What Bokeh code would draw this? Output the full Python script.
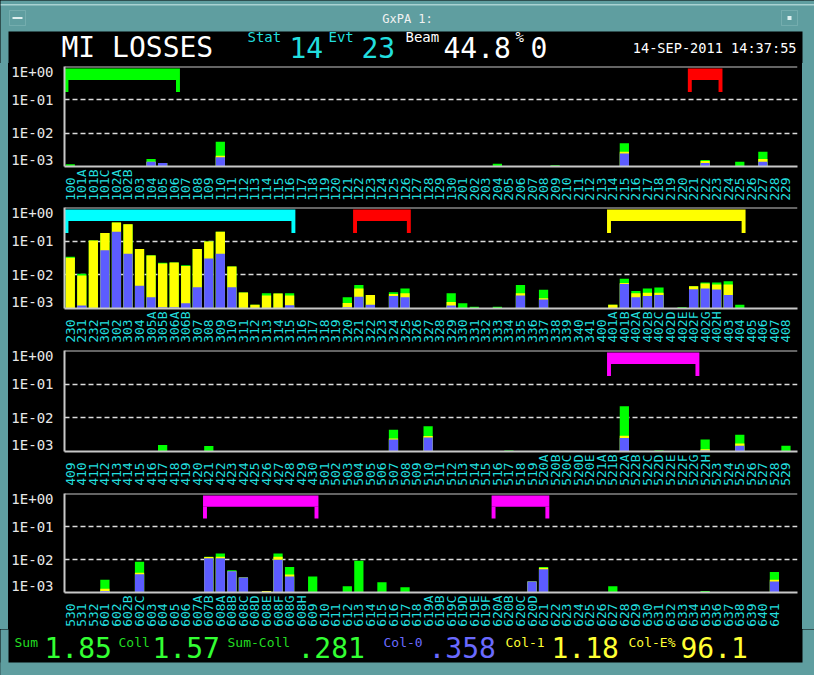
import math
from bokeh.plotting import figure
from bokeh.models import (Range1d, FixedTicker, CustomJSTickFormatter, Span, Label,
                          Spacer, ColumnDataSource, BoxAnnotation)
from bokeh.layouts import column, row
from bokeh.embed import file_html
from bokeh.resources import INLINE

# ---------------- data ----------------
WINDOW_TITLE = "GxPA 1:"
PAGE_TITLE = "MI LOSSES"
STAT = "14"
EVT = "23"
BEAM = "44.8"
BEAM_EXTRA = "0"
TIMESTAMP = "14-SEP-2011 14:37:55"

SUM_TOTAL = "1.85"
COLL = "1.57"
SUM_MINUS_COLL = ".281"
COL_0 = ".358"
COL_1 = "1.18"
COL_E_PCT = "96.1"

y_ticks = [1e-3, 1e-2, 1e-1, 1.0]

p1_labels = ("100 101A 101B 101C 102A 102B 103 104 105 106 107 108 109 110 111 112 113 114 115 116 "
             "117 118 119 120 121 122 123 124 125 126 127 128 129 130 201 202 203 204 205 206 207 208 "
             "209 210 211 212 213 214 215 216 217 218 219 220 221 222 223 224 225 226 227 228 229").split()
p1_bar_labels = ["100", "104", "105", "110", "204", "209", "215", "222", "225", "227"]
p1_sum = [1.17e-3, 1.67e-3, 1.28e-3, 5.5e-3, 1.2e-3, 1.09e-3, 5.0e-3, 1.56e-3, 1.40e-3, 2.75e-3]
p1_coll = [0, 1.40e-3, 1.28e-3, 2.1e-3, 0, 0, 2.75e-3, 1.46e-3, 0, 1.67e-3]
p1_col0 = [0, 1.40e-3, 1.28e-3, 1.9e-3, 0, 0, 2.45e-3, 1.28e-3, 0, 1.40e-3]
p1_groups = [("100", "106"), ("221", "223")]
p1_group_colors = ["#00ff00", "#ff0000"]

p2_labels = ("230 231 232 301 302 303 304 305A 305B 306A 306B 307 308 309 310 311 312 313 314 315 316 "
             "317 318 319 320 321 322 323 324 325 326 327 328 329 330 331 332 333 334 335 336 337 338 "
             "339 340 341 400 401A 401B 402A 402B 402C 402D 402E 402F 402G 402H 403 404 405 406 407 408").split()
p2_bar_labels = ["230", "231", "232", "301", "302", "303", "304", "305A", "305B", "306A", "306B", "307",
                 "308", "309", "310", "311", "312", "313", "314", "315", "320", "321", "322", "324", "325",
                 "329", "330", "331", "333", "335", "337", "401A", "401B", "402A", "402B", "402C", "402E",
                 "402F", "402G", "402H", "403", "404"]
p2_sum = [0.0345, 0.0107, 0.105, 0.176, 0.36, 0.316, 0.059, 0.038, 0.0227, 0.0234, 0.0194, 0.059,
          0.098, 0.19, 0.0178, 3.0e-3, 1.3e-3, 2.83e-3, 2.77e-3, 2.83e-3, 2.17e-3, 5.0e-3, 2.53e-3, 3.03e-3, 3.95e-3,
          2.83e-3, 1.43e-3, 1.12e-3, 1.12e-3, 5.0e-3, 3.6e-3, 1.30e-3, 7.7e-3, 3.3e-3, 3.95e-3, 4.2e-3, 1.09e-3,
          4.6e-3, 5.9e-3, 5.9e-3, 6.4e-3, 1.30e-3]
p2_coll = [0.0324, 0.0096, 0.104, 0.174, 0.36, 0.316, 0.0588, 0.0378, 0.0217, 0.0232, 0.0182, 0.0588,
           0.098, 0.19, 0.0178, 3.0e-3, 1.3e-3, 2.42e-3, 2.77e-3, 2.42e-3, 1.46e-3, 3.95e-3, 2.53e-3, 2.71e-3, 2.83e-3,
           1.56e-3, 0, 0, 0, 2.83e-3, 2.03e-3, 1.30e-3, 5.75e-3, 2.83e-3, 2.96e-3, 2.96e-3, 0,
           4.6e-3, 5.5e-3, 5.15e-3, 5.15e-3, 0]
p2_col0 = [0, 1.22e-3, 0, 0.0538, 0.19, 0.0422, 4.7e-3, 2.17e-3, 1.09e-3, 1.09e-3, 1.43e-3, 4.3e-3,
           0.0303, 0.0422, 4.3e-3, 0, 0, 0, 0, 1.25e-3, 1.09e-3, 2.22e-3, 1.30e-3, 2.37e-3, 2.17e-3,
           1.22e-3, 0, 0, 0, 2.42e-3, 1.86e-3, 0, 5.37e-3, 2.17e-3, 2.37e-3, 2.53e-3, 0,
           3.7e-3, 3.95e-3, 3.69e-3, 2.53e-3, 0]
p2_groups = [("230", "315"), ("321", "325"), ("401A", "404")]
p2_group_colors = ["#00ffff", "#ff0000", "#ffff00"]

p3_labels = ("409 410 411 412 413 414 415 416 417 418 419 420 421 422 423 424 425 426 427 428 429 430 "
             "501 502 503 504 505 506 507 508 509 510 511 512 513 514 515 516 517 518 519 520A 520B 520C "
             "520D 520E 521A 521B 522A 522B 522C 522D 522E 522F 522G 522H 523 524 525 526 527 528 529").split()
p3_bar_labels = ["417", "421", "507", "510", "517", "522A", "522D", "522H", "525", "529"]
p3_sum = [1.56e-3, 1.46e-3, 4.4e-3, 5.6e-3, 1.07e-3, 0.022, 1.07e-3, 2.27e-3, 3.16e-3, 1.49e-3]
p3_coll = [0, 0, 2.42e-3, 2.9e-3, 0, 2.96e-3, 0, 1.17e-3, 1.74e-3, 0]
p3_col0 = [0, 0, 2.27e-3, 2.6e-3, 0, 2.53e-3, 0, 1.07e-3, 1.49e-3, 0]
p3_groups = [("521B", "522G")]
p3_group_colors = ["#ff00ff"]

p4_labels = ("530 531 532 601 602 602B 602C 603 604 605 606 607A 607B 608A 608B 608C 608D 608E 608F "
             "608G 608H 609 610 611 612 613 614 615 616 617 618 619A 619B 619C 619D 619E 619F 620A 620B "
             "620C 620D 621 622 623 624 625 626 627 628 629 630 631 632 633 634 635 636 637 638 639 640 641").split()
p4_bar_labels = ["601", "602C", "607B", "608A", "608B", "608C", "608E", "608F", "608G", "609", "612",
                 "613", "615", "617", "620D", "621", "627", "635", "641"]
p4_sum = [2.42e-3, 8.6e-3, 0.0122, 0.0152, 4.7e-3, 2.83e-3, 1.12e-3, 0.0152, 5.9e-3, 3.03e-3, 1.56e-3,
          9.15e-3, 2.03e-3, 1.43e-3, 2.17e-3, 5.9e-3, 1.56e-3, 1.12e-3, 4.2e-3]
p4_coll = [1.30e-3, 4.0e-3, 0.0120, 0.0122, 4.4e-3, 2.83e-3, 1.12e-3, 0.0122, 3.54e-3, 0, 0,
           0, 0, 0, 2.17e-3, 5.6e-3, 0, 0, 2.42e-3]
p4_col0 = [1.12e-3, 3.6e-3, 0.0109, 0.0109, 4.4e-3, 2.83e-3, 0, 9.75e-3, 3.03e-3, 0, 0,
           0, 0, 0, 2.17e-3, 5.03e-3, 0, 0, 2.17e-3]
p4_groups = [("607B", "609"), ("620A", "621")]
p4_group_colors = ["#ff00ff", "#ff00ff"]

# ---------------- style ----------------
TEAL = "#5f9ea0"
TEAL_LIGHT = "#a9d2d2"
BLACK = "#000000"
GREEN = "#00ff00"
YELLOW = "#ffff00"
BLUE = "#5c5cff"
CYAN_TXT = "#22dede"
GRAY = "#c8c8c8"
MONO = "DejaVu Sans Mono"
Y_MIN, Y_MAX = 1e-3, 1.0
FULL_W = 814       # whole window
W = 794            # width of the black display area
BL, BR = 54, 5     # left / right borders of each plot frame


def tick_label_pos(v):
    # labels at the frame edges are nudged inward, as on the original display
    e = math.log10(v)
    if v >= Y_MAX:
        e -= 0.165
    elif v <= Y_MIN:
        e += 0.19
    return 10 ** e


def panel(labels, bar_labels, sums, colls, col0s, groups, group_colors, height, top_border, bottom_border):
    p = figure(width=W, height=height, x_range=Range1d(-0.5, 63.0), y_range=Range1d(Y_MIN, Y_MAX),
               y_axis_type="log", output_backend="svg", toolbar_location=None, title=None,
               min_border_left=BL, min_border_right=BR, min_border_top=top_border,
               min_border_bottom=bottom_border,
               background_fill_color=BLACK, border_fill_color=BLACK, outline_line_color=None)
    frame_h = height - top_border - bottom_border

    xs = [labels.index(b) for b in bar_labels]
    for vals, colr in ((sums, GREEN), (colls, YELLOW), (col0s, BLUE)):
        pts = [(x, v) for x, v in zip(xs, vals) if v > 0]
        src = ColumnDataSource(dict(x=[a for a, _ in pts], top=[b for _, b in pts]))
        p.vbar(x="x", top="top", bottom=Y_MIN, width=0.8, source=src,
               fill_color=colr, line_color=None)
    # group brackets (pixel offsets below the top edge converted to decades)
    dpp = math.log10(Y_MAX / Y_MIN) / frame_h
    b_top = Y_MAX * 10 ** (-2.0 * dpp)
    b_mid = Y_MAX * 10 ** (-13.5 * dpp)
    b_bot = Y_MAX * 10 ** (-25.5 * dpp)
    leg = 0.34
    for (a, b), colr in zip(groups, group_colors):
        x0 = labels.index(a) - 0.5
        x1 = labels.index(b) + 0.5
        src = ColumnDataSource(dict(left=[x0, x0, x1 - leg], right=[x1, x0 + leg, x1],
                                    top=[b_top, b_mid, b_mid], bottom=[b_mid, b_bot, b_bot]))
        p.quad(left="left", right="right", top="top", bottom="bottom", source=src,
               fill_color=colr, line_color=None)
    # top border
    p.add_layout(Span(location=Y_MAX, dimension="width", line_color=GRAY, line_width=2))
    # axes
    p.xgrid.visible = False
    p.ygrid.ticker = FixedTicker(ticks=[1e-2, 1e-1], minor_ticks=[])
    p.ygrid.grid_line_color = "#dcdcdc"
    p.ygrid.grid_line_dash = "5 3"
    p.ygrid.grid_line_width = 1.5

    p.yaxis.ticker = FixedTicker(ticks=[tick_label_pos(v) for v in y_ticks], minor_ticks=[])
    p.yaxis.formatter = CustomJSTickFormatter(code="""
        const e = Math.round(Math.log10(tick));
        return '1E' + (e < 0 ? '-' : '+') + String(Math.abs(e)).padStart(2, '0');
    """)
    p.yaxis.axis_line_color = GRAY
    p.yaxis.axis_line_width = 2
    p.yaxis.major_tick_line_color = None
    p.yaxis.minor_tick_line_color = None
    p.yaxis.major_label_text_color = "#e8e8e8"
    p.yaxis.major_label_text_font = MONO
    p.yaxis.major_label_text_font_size = "14px"
    p.yaxis.major_label_standoff = 5

    padded = [s + "\u00a0" * (4 - len(s)) for s in labels]
    p.xaxis.ticker = FixedTicker(ticks=list(range(len(labels))), minor_ticks=[])
    p.xaxis.formatter = CustomJSTickFormatter(args=dict(labels=padded),
                                              code="return labels[Math.round(tick)] || '';")
    p.xaxis.major_label_orientation = math.pi / 2
    p.xaxis.axis_line_color = GRAY
    p.xaxis.axis_line_width = 2
    p.xaxis.major_tick_line_color = None
    p.xaxis.minor_tick_line_color = None
    p.xaxis.major_tick_out = 0
    p.xaxis.major_label_standoff = 3
    p.xaxis.major_label_text_color = CYAN_TXT
    p.xaxis.major_label_text_font = MONO
    p.xaxis.major_label_text_font_size = "13px"
    return p


def canvas_fig(height, bg):
    # full-width figure whose data coordinates are pixels from the top-left corner
    f = figure(width=FULL_W, height=height, x_range=Range1d(0, FULL_W), y_range=Range1d(height, 0),
               output_backend="svg", toolbar_location=None, min_border=0, title=None,
               x_axis_location=None, y_axis_location=None,
               background_fill_color=bg, border_fill_color=bg, outline_line_color=None)
    f.grid.visible = False
    return f


def put(f, x, baseline, text, color, size_px, align="left"):
    # x, baseline in pixels; placed with a 'middle' anchor
    f.add_layout(Label(x=x, y=baseline - 0.35 * size_px, text=text, text_color=color, text_font=MONO,
                       text_font_size=f"{size_px}px", text_align=align, text_baseline="middle"))


def box(f, left, right, top, bottom, color, line=None):
    f.add_layout(BoxAnnotation(left=left, right=right, top=top, bottom=bottom, fill_color=color,
                               fill_alpha=1, line_color=line, line_width=1))


# ---- top: window title bar + header line
top = canvas_fig(63, TEAL)
box(top, 0, FULL_W, 3.5, 5, TEAL_LIGHT)
box(top, 8, 8 + W, 31, 66, BLACK)
top.add_layout(Label(x=407, y=18, text=WINDOW_TITLE, text_color="#f2f2f2", text_font=MONO,
                     text_font_size="12px", text_align="center", text_baseline="middle"))
box(top, 9, 25, 10, 25, TEAL, TEAL_LIGHT)
box(top, 781, 797, 10, 25, TEAL, TEAL_LIGHT)
box(top, 12, 22, 16.5, 18.5, "#dff0f0")
box(top, 787, 791, 15.5, 19.5, "#dff0f0")

put(top, 61, 56.3, PAGE_TITLE, "#ffffff", 28)
put(top, 247, 41.5, "Stat", CYAN_TXT, 14)
put(top, 289, 56.3, STAT, CYAN_TXT, 28)
put(top, 328, 41.5, "Evt", CYAN_TXT, 14)
put(top, 361, 56.3, EVT, CYAN_TXT, 28)
put(top, 405, 41.5, "Beam", "#ffffff", 14)
put(top, 443, 56.3, BEAM, "#ffffff", 28)
put(top, 515, 41.5, "%", "#ffffff", 14)
put(top, 530, 56.3, BEAM_EXTRA, "#ffffff", 28)
put(top, 796, 52.7, TIMESTAMP, "#ffffff", 13.6, align="right")

# ---- panels
p1 = panel(p1_labels, p1_bar_labels, p1_sum, p1_coll, p1_col0, p1_groups, p1_group_colors, 141, 3, 38)
p2 = panel(p2_labels, p2_bar_labels, p2_sum, p2_coll, p2_col0, p2_groups, p2_group_colors, 143, 3, 39)
p3 = panel(p3_labels, p3_bar_labels, p3_sum, p3_coll, p3_col0, p3_groups, p3_group_colors, 143, 3, 39)
p4 = panel(p4_labels, p4_bar_labels, p4_sum, p4_coll, p4_col0, p4_groups, p4_group_colors, 139, 3, 35)

# ---- bottom: totals line + window frame (black figure, teal frame drawn around)
bot = canvas_fig(46, BLACK)
box(bot, -2, 8, -2, 48, TEAL)
box(bot, 8 + W, FULL_W + 2, -2, 48, TEAL)
box(bot, -2, FULL_W + 2, 33, 48, TEAL)
put(bot, 14, 17.7, "Sum", "#22dd22", 13)
put(bot, 44, 27.4, SUM_TOTAL, "#33ff33", 28)
put(bot, 118, 17.7, "Coll", "#22dd22", 13)
put(bot, 152, 27.4, COLL, "#33ff33", 28)
put(bot, 227, 17.7, "Sum-Coll", "#22dd22", 13)
put(bot, 297, 27.4, SUM_MINUS_COLL, "#33ff33", 28)
put(bot, 383, 17.7, "Col-0", "#6a6aff", 13)
put(bot, 428, 27.4, COL_0, "#6a6aff", 28)
put(bot, 505, 17.7, "Col-1", "#ffff33", 13)
put(bot, 551, 27.4, COL_1, "#ffff33", 28)
put(bot, 628, 17.7, "Col-E%", "#ffff33", 13)
put(bot, 680, 27.4, COL_E_PCT, "#ffff33", 28)

inner = column(p1, p2, p3, p4, spacing=0, styles={"background-color": BLACK})
mid = row(Spacer(width=8, height=566, styles={"background-color": TEAL}), inner,
          Spacer(width=12, height=566, styles={"background-color": TEAL}),
          spacing=0, styles={"background-color": BLACK})
root = column(top, mid, bot, spacing=0, styles={"background-color": BLACK})

open("out.html", "w").write(file_html(root, INLINE))
